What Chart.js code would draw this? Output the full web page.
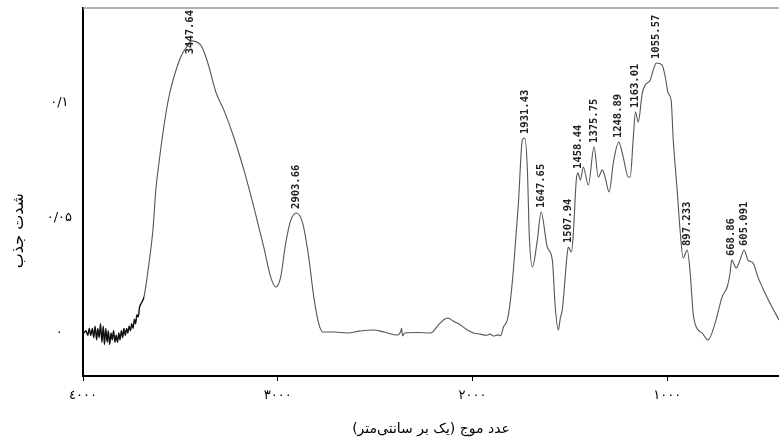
<!DOCTYPE html>
<html>
<head>
<meta charset="utf-8">
<script src="https://cdn.jsdelivr.net/npm/chart.js@4"></script>
<style>
  html, body { margin: 0; padding: 0; background: #fff; }
  #wrap { width: 779px; height: 446px; position: relative; }
</style>
</head>
<body>
<div id="wrap"><canvas id="c"></canvas></div>
<script>
// ---- data ----
const wavenumber = [
  3995, 3985, 3975, 3968, 3960, 3952, 3945, 3938, 3930, 3924, 3917, 3910, 3903, 3896, 3890, 3883,
  3876, 3870, 3863, 3856, 3850, 3843, 3836, 3830, 3823, 3816, 3810, 3803, 3796, 3790, 3783, 3776,
  3770, 3763, 3756, 3750, 3743, 3736, 3730, 3723, 3716, 3710, 3700, 3687, 3661, 3641, 3626, 3610,
  3585, 3559, 3533, 3498, 3462, 3447.64, 3395, 3359, 3318, 3277, 3226, 3174, 3123, 3072, 3036, 3010,
  2985, 2959, 2933, 2903.66, 2872, 2841, 2815, 2790, 2769, 2713, 2641, 2580, 2508, 2450, 2385, 2369,
  2364, 2359, 2349, 2280, 2215, 2170, 2128, 2095, 2062, 2030, 1995, 1960, 1930, 1910, 1892, 1870,
  1855, 1841, 1821, 1805, 1790, 1764, 1744, 1731.43, 1718, 1708, 1692, 1667, 1647.65, 1616, 1590, 1575,
  1559, 1549, 1539, 1513, 1507.94, 1492, 1482, 1467, 1458.44, 1446, 1431, 1405, 1375.75, 1354, 1333, 1318,
  1298, 1277, 1248.89, 1226, 1200, 1190, 1175, 1163.01, 1149, 1128, 1113, 1087, 1072, 1055.57, 1026, 1010,
  995, 980, 969, 949, 934, 918, 897.233, 882, 867, 851, 821, 790, 754, 718, 692, 677,
  668.86, 646, 626, 605.091, 585, 559, 534, 498, 462, 426
];
const absorbance = [
  0.000, 0.001, -0.001, 0.002, -0.001, 0.002, -0.002, 0.003, -0.003, 0.002, -0.002, 0.004, -0.004, 0.003, -0.005, 0.002,
  -0.004, 0.001, -0.005, 0.000, -0.003, 0.001, -0.004, -0.001, -0.004, 0.000, -0.003, 0.001, -0.002, 0.002, -0.001, 0.002,
  0.000, 0.003, 0.001, 0.004, 0.002, 0.006, 0.004, 0.008, 0.007, 0.011, 0.013, 0.0157, 0.0304, 0.0448, 0.0622, 0.0739,
  0.0896, 0.1026, 0.1113, 0.1200, 0.1252, 0.1270, 0.1252, 0.1174, 0.1048, 0.0970, 0.0852, 0.0709, 0.0548, 0.0374, 0.0243, 0.0200,
  0.0243, 0.0391, 0.0491, 0.0522, 0.0478, 0.0330, 0.0157, 0.0043, 0.0004, 0.0004, 0.0000, 0.0008, 0.0013, 0.0003, -0.0009, 0.0005,
  0.0020, -0.0013, 0.0000, 0.0002, 0.0000, 0.0040, 0.0065, 0.0050, 0.0035, 0.0015, 0.0000, -0.0005, -0.0010, -0.0005, -0.0013, -0.0008,
  -0.0012, 0.0026, 0.0057, 0.0143, 0.0274, 0.0565, 0.0839, 0.0848, 0.0709, 0.0417, 0.0287, 0.0404, 0.0526, 0.0374, 0.0317, 0.0113,
  0.0013, 0.0065, 0.0100, 0.0348, 0.0374, 0.0352, 0.0435, 0.0665, 0.0696, 0.0665, 0.0722, 0.0643, 0.0809, 0.0678, 0.0709, 0.0674,
  0.0613, 0.0739, 0.0830, 0.0765, 0.0678, 0.0678, 0.0839, 0.0961, 0.0917, 0.1043, 0.1078, 0.1100, 0.1143, 0.1174, 0.1165, 0.1113,
  0.1043, 0.1013, 0.0839, 0.0622, 0.0448, 0.0326, 0.0361, 0.0261, 0.0087, 0.0026, 0.0000, -0.0030, 0.0043, 0.0157, 0.0200, 0.0261,
  0.0317, 0.0283, 0.0317, 0.0361, 0.0317, 0.0304, 0.0243, 0.0174, 0.0113, 0.0057
];
const peakWavenumbers = [3447.64, 2903.66, 1731.43, 1647.65, 1507.94, 1458.44, 1375.75, 1248.89, 1163.01, 1055.57, 897.233, 668.86, 605.091];
const peakLabels = ['3447.64', '2903.66', '1931.43', '1647.65', '1507.94', '1458.44', '1375.75', '1248.89', '1163.01', '1055.57', '897.233', '668.86', '605.091'];
const xTicks = [4000, 3000, 2000, 1000];
const xTickLabels = ['٤۰۰۰', '۳۰۰۰', '۲۰۰۰', '۱۰۰۰'];
const yTicks = [0, 0.05, 0.1];
const yTickLabels = ['۰', '۰/۰۵', '۰/۱'];
const xTitle = 'عدد موج (یک بر سانتی‌متر)';
const yTitle = 'شدت جذب';

const points = wavenumber.map((w, i) => ({ x: w, y: absorbance[i] }));

const peakPlugin = {
  id: 'peakLabels',
  beforeDatasetsDraw(chart) {
    const { ctx, chartArea } = chart;
    ctx.save();
    ctx.strokeStyle = '#999';
    ctx.lineWidth = 1.5;
    ctx.beginPath();
    ctx.moveTo(chartArea.left, chartArea.top);
    ctx.lineTo(chartArea.right, chartArea.top);
    ctx.stroke();
    ctx.restore();
  },
  afterDatasetsDraw(chart) {
    const ctx = chart.ctx;
    const meta = chart.getDatasetMeta(0);
    ctx.save();
    ctx.font = 'bold 10.5px "DejaVu Sans Mono"';
    ctx.fillStyle = '#222';
    ctx.textBaseline = 'middle';
    ctx.textAlign = 'left';
    peakWavenumbers.forEach((w, k) => {
      const i = wavenumber.indexOf(w);
      if (i < 0) return;
      const el = meta.data[i];
      const txt = peakLabels[k];
      const tw = ctx.measureText(txt).width;
      let yEnd = el.y - 4;
      if (yEnd - tw < chart.chartArea.top + 2) yEnd = chart.chartArea.top + 2 + tw;
      ctx.save();
      ctx.translate(el.x, yEnd);
      ctx.rotate(-Math.PI / 2);
      ctx.fillText(txt, 0, 0);
      ctx.restore();
    });
    ctx.restore();
  },
  afterDraw(chart) {
    // vertical axis title, placed as in the reference
    const ctx = chart.ctx;
    const ys = chart.scales.y;
    ctx.save();
    ctx.font = '16px "DejaVu Sans"';
    ctx.fillStyle = '#000';
    ctx.textAlign = 'center';
    ctx.textBaseline = 'middle';
    ctx.translate(19, ys.getPixelForValue(0.0445));
    ctx.rotate(-Math.PI / 2);
    ctx.fillText(yTitle, 0, 0);
    ctx.restore();
  }
};

new Chart(document.getElementById('c'), {
  type: 'line',
  data: {
    datasets: [{
      data: points,
      borderColor: '#555',
      borderWidth: 1.1,
      pointRadius: 0,
      cubicInterpolationMode: 'monotone',
      fill: false,
      segment: {
        borderColor: c => (c.p0.parsed.x > 3690 ? '#111' : '#555'),
        borderWidth: c => (c.p0.parsed.x > 3690 ? 1.4 : 1.1)
      }
    }]
  },
  options: {
    responsive: true,
    maintainAspectRatio: false,
    animation: false,
    devicePixelRatio: 1,
    layout: { padding: { top: 8, right: 0, left: 0, bottom: 0 } },
    plugins: { legend: { display: false }, tooltip: { enabled: false } },
    scales: {
      x: {
        type: 'linear',
        reverse: true,
        min: 426,
        max: 4000,
        afterBuildTicks: s => { s.ticks = xTicks.map(v => ({ value: v })); },
        afterFit: s => { s.height = 70; s.paddingLeft = 0; s.paddingRight = 0; },
        ticks: {
          autoSkip: false,
          maxRotation: 0,
          padding: 7,
          color: '#000',
          font: { family: '"DejaVu Sans"', size: 13 },
          callback: v => xTickLabels[xTicks.indexOf(v)]
        },
        grid: { display: true, drawOnChartArea: false, drawTicks: true, tickLength: 5, color: '#000', lineWidth: 1 },
        border: { display: true, color: '#000', width: 2 },
        title: { display: true, text: xTitle, color: '#000', font: { family: '"DejaVu Sans"', size: 14 }, padding: { top: 4, bottom: 8 } }
      },
      y: {
        type: 'linear',
        min: -0.0187,
        max: 0.1413,
        afterBuildTicks: s => { s.ticks = yTicks.map(v => ({ value: v })); },
        afterFit: s => { s.width = 83; s.paddingTop = 0; s.paddingBottom = 0; },
        ticks: {
          crossAlign: 'center',
          padding: 11,
          color: '#000',
          font: { family: '"DejaVu Sans"', size: 13 },
          callback: v => yTickLabels[yTicks.indexOf(v)]
        },
        grid: { display: true, drawOnChartArea: false, drawTicks: false },
        border: { display: true, color: '#000', width: 2 },
        title: { display: false }
      }
    }
  },
  plugins: [peakPlugin]
});
</script>
</body>
</html>
